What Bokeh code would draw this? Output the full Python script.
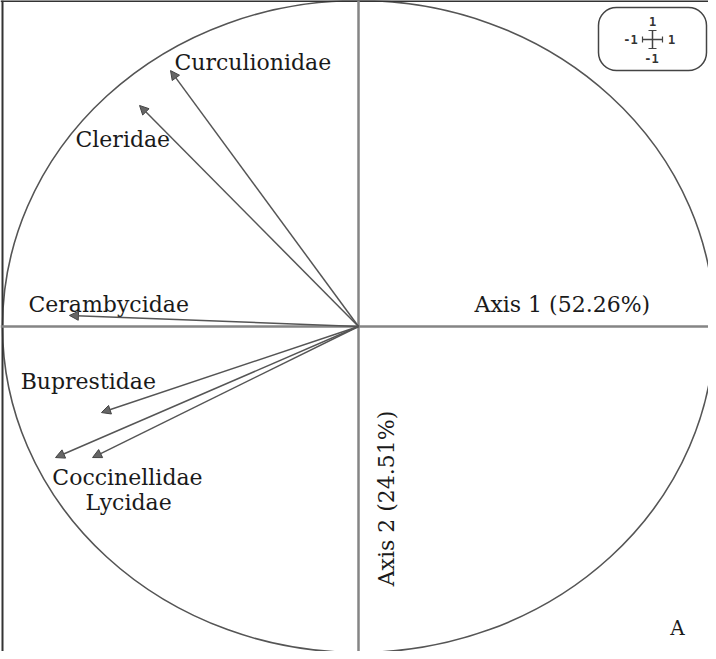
import numpy as np
from bokeh.plotting import figure
from bokeh.models import ColumnDataSource, Arrow, NormalHead, Span, BoxAnnotation, Range1d
from bokeh.core.properties import value
from bokeh.embed import file_html
from bokeh.resources import INLINE

# ---- data (correlation circle loadings) ----
families = ["Curculionidae", "Cleridae", "Cerambycidae", "Buprestidae", "Coccinellidae", "Lycidae"]
axis1 = [-0.528, -0.615, -0.812, -0.722, -0.851, -0.747]
axis2 = [0.785, 0.678, 0.034, -0.264, -0.402, -0.402]
axis1_title = "Axis 1 (52.26%)"
axis2_title = "Axis 2 (24.51%)"
panel_tag = "A"

# label anchor positions (left edge, vertical middle) in data units
label_x = [-0.517, -0.795, -0.927, -0.949, -0.860, -0.767]
label_y = [0.810, 0.574, 0.067, -0.169, -0.463, -0.540]

W, H = 708, 651
XR = (-1.0056, 0.9831)
YR = (-0.9969, 1.0)
FONT = value("DejaVu Serif")

p = figure(width=W, height=H, output_backend="svg", toolbar_location=None,
           x_range=Range1d(*XR), y_range=Range1d(*YR),
           x_axis_type=None, y_axis_type=None, min_border=0,
           background_fill_color="white", border_fill_color="white")
p.grid.visible = False
p.outline_line_color = None

def px2x(px):
    return XR[0] + (px - 8) / W * (XR[1] - XR[0])

def py2y(py):
    return YR[1] - (py - 8) / H * (YR[1] - YR[0])

# frame lines (left and top)
p.add_layout(Span(location=px2x(10), dimension="height", line_color="#333333", line_width=2))
p.add_layout(Span(location=py2y(8.5), dimension="width", line_color="#333333", line_width=2))

# axes through origin
p.add_layout(Span(location=0, dimension="height", line_color="#858585", line_width=2.5))
p.add_layout(Span(location=0, dimension="width", line_color="#858585", line_width=2.5))

# unit circle
p.ellipse(x=0, y=0, width=2, height=2, fill_color=None, line_color="#555555", line_width=1.6)

# arrows
src = ColumnDataSource(dict(x0=[0] * len(families), y0=[0] * len(families), x1=axis1, y1=axis2))
p.add_layout(Arrow(source=src, x_start="x0", y_start="y0", x_end="x1", y_end="y1",
                   line_color="#555555", line_width=1.5,
                   end=NormalHead(size=9, fill_color="#666666", line_color="#444444", line_width=1)))

# labels
lsrc = ColumnDataSource(dict(x=label_x, y=label_y, t=families))
p.text(x="x", y="y", text="t", source=lsrc, text_font=FONT,
       text_font_size="22px", text_baseline="middle", text_align="left", text_color="#1a1a1a")

p.text(x=[px2x(482)], y=[py2y(312)], text=[axis1_title], text_font=FONT,
       text_font_size="22px", text_baseline="middle", text_align="left", text_color="#1a1a1a")
p.text(x=[px2x(394)], y=[py2y(506)], text=[axis2_title], angle=np.pi / 2,
       text_font=FONT, text_font_size="22px",
       text_baseline="middle", text_align="center", text_color="#1a1a1a")
p.text(x=[px2x(685)], y=[py2y(635)], text=[panel_tag], text_font=FONT,
       text_font_size="20px", text_baseline="middle", text_align="center", text_color="#1a1a1a")

# inset scale box (top right)
p.add_layout(BoxAnnotation(left=px2x(606), right=px2x(714), top=py2y(15), bottom=py2y(78),
                           fill_color=None, fill_alpha=0, line_color="#444444", line_alpha=1.0,
                           line_width=1.5, border_radius=18))
cx, cy = 660, 47
p.segment(x0=[px2x(cx - 10), px2x(cx)], y0=[py2y(cy), py2y(cy - 9)],
          x1=[px2x(cx + 10), px2x(cx)], y1=[py2y(cy), py2y(cy + 9)],
          line_color="#444444", line_width=1.5)
p.segment(x0=[px2x(cx - 10), px2x(cx + 10), px2x(cx - 4), px2x(cx - 4)],
          y0=[py2y(cy - 3), py2y(cy - 3), py2y(cy - 9), py2y(cy + 9)],
          x1=[px2x(cx - 10), px2x(cx + 10), px2x(cx + 4), px2x(cx + 4)],
          y1=[py2y(cy + 3), py2y(cy + 3), py2y(cy - 9), py2y(cy + 9)],
          line_color="#444444", line_width=1.2)
p.text(x=[px2x(cx), px2x(cx - 22), px2x(cx + 19), px2x(cx - 1)],
       y=[py2y(29), py2y(47), py2y(47), py2y(66)],
       text=["1", "-1", "1", "-1"], text_font=value("DejaVu Sans Mono"),
       text_font_size="12px", text_font_style="bold", text_baseline="middle",
       text_align="center", text_color="#333333")

open("out.html", "w").write(file_html(p, INLINE))
